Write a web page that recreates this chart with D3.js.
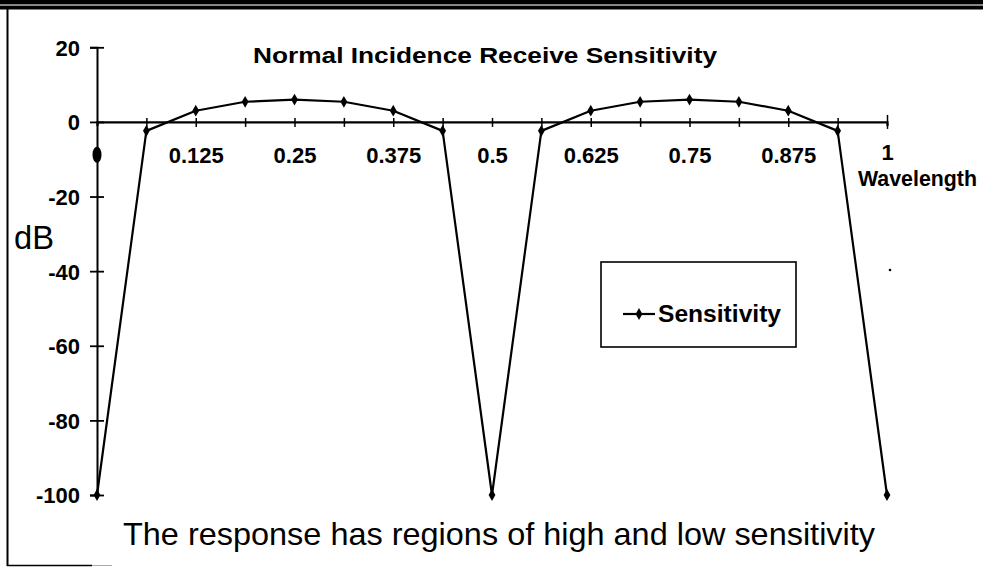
<!DOCTYPE html>
<html>
<head>
<meta charset="utf-8">
<script src="https://cdn.jsdelivr.net/npm/d3@7"></script>
<style>
  html, body { margin: 0; padding: 0; background: #fff; }
  svg { display: block; }
  text { font-family: Arial, "Liberation Sans", Helvetica, sans-serif; fill: #000; }
</style>
</head>
<body>
<svg id="chart" width="983" height="567"></svg>
<script>
// ---- data ----
const wavelength = [0, 0.0625, 0.125, 0.1875, 0.25, 0.3125, 0.375, 0.4375, 0.5,
                    0.5625, 0.625, 0.6875, 0.75, 0.8125, 0.875, 0.9375, 1];
const sensitivity = [-100, -2.4, 3.0, 5.4, 6.0, 5.4, 3.0, -2.4, -100,
                     -2.4, 3.0, 5.4, 6.0, 5.4, 3.0, -2.4, -100];
const xTickValues = [0, 0.0625, 0.125, 0.1875, 0.25, 0.3125, 0.375, 0.4375, 0.5,
                     0.5625, 0.625, 0.6875, 0.75, 0.8125, 0.875, 0.9375, 1];
const xTickLabels = ["0.125", "0.25", "0.375", "0.5", "0.625", "0.75", "0.875", "1"];
const yTickValues = [20, 0, -20, -40, -60, -80, -100];
const titleText = "Normal Incidence Receive Sensitivity";
const seriesName = "Sensitivity";
const yLabel = "dB";
const xLabel = "Wavelength";
const captionText = "The response has regions of high and low sensitivity";
const artifact = { x: 0, y: -8.8 };

// ---- chart ----
const svg = d3.select("#chart");
const x = d3.scaleLinear().domain([0, 1]).range([97, 887]);
const y = d3.scaleLinear().domain([-100, 20]).range([495, 47.3]);

// frame
svg.append("rect").attr("x", 0).attr("y", 0).attr("width", 983).attr("height", 4.5).attr("fill", "#000");
svg.append("rect").attr("x", 0).attr("y", 4.5).attr("width", 983).attr("height", 1.5).attr("fill", "#888");
svg.append("rect").attr("x", 0).attr("y", 6).attr("width", 983).attr("height", 3.5).attr("fill", "#000");
svg.append("line").attr("x1", 7.5).attr("x2", 7.5).attr("y1", 9).attr("y2", 566)
  .attr("stroke", "#000").attr("stroke-width", 2);
svg.append("line").attr("x1", 7).attr("x2", 92).attr("y1", 565.5).attr("y2", 565.5)
  .attr("stroke", "#000").attr("stroke-width", 1.5);
svg.append("line").attr("x1", 92).attr("x2", 112).attr("y1", 565.5).attr("y2", 565.5)
  .attr("stroke", "#aaa").attr("stroke-width", 1);

// y axis
const yAxis = svg.append("g").attr("transform", `translate(${x(0)},0)`)
  .call(d3.axisLeft(y).tickValues(yTickValues).tickSizeOuter(0).tickSize(7).tickFormat(d => String(d)));
yAxis.select(".domain").attr("stroke", "#000").attr("stroke-width", 2);
yAxis.selectAll(".tick line").attr("x1", -7).attr("x2", 7).attr("stroke-width", 1.8);
yAxis.selectAll(".tick text").attr("x", -17).attr("dy", "0.36em")
  .style("font-size", "22px").style("font-weight", "bold").attr("fill", "#000");

// x axis at y = 0
const xAxis = svg.append("g").attr("transform", `translate(0,${y(0)})`)
  .call(d3.axisBottom(x).tickValues(xTickValues).tickSizeOuter(0).tickSize(4)
    .tickFormat(d => { const s = String(d); return xTickLabels.includes(s) ? s : ""; }));
xAxis.select(".domain").attr("stroke", "#000").attr("stroke-width", 2.2);
xAxis.selectAll(".tick line").attr("y1", d => d === 1 ? -7 : -4).attr("y2", d => d === 1 ? 7 : 5)
  .attr("stroke-width", 1.5);
xAxis.selectAll(".tick line").filter(d => d === 0).remove();
xAxis.selectAll(".tick text").attr("y", d => d === 1 ? 38 : 41).attr("dy", 0)
  .style("font-size", "22px").style("font-weight", "bold").attr("fill", "#000");

// axis labels
svg.append("text").attr("x", 858).attr("y", 186).text(xLabel)
  .style("font-size", "22px").style("font-weight", "bold").attr("textLength", 119).attr("lengthAdjust", "spacingAndGlyphs");
svg.append("text").attr("x", 14).attr("y", 249).text(yLabel)
  .style("font-size", "33px").attr("textLength", 40).attr("lengthAdjust", "spacingAndGlyphs");

// title
svg.append("text").attr("x", 253).attr("y", 63).text(titleText)
  .style("font-size", "22px").style("font-weight", "bold")
  .attr("textLength", 464).attr("lengthAdjust", "spacingAndGlyphs");

// artifact ellipse on the y axis
svg.append("ellipse").attr("cx", x(artifact.x)).attr("cy", y(artifact.y))
  .attr("rx", 4.5).attr("ry", 8).attr("fill", "#000");

// series line
const pts = wavelength.map((w, i) => [w, sensitivity[i]]);
svg.append("path").datum(pts)
  .attr("fill", "none").attr("stroke", "#000").attr("stroke-width", 2.2)
  .attr("stroke-linejoin", "round")
  .attr("d", d3.line().x(d => x(d[0])).y(d => y(d[1])));
const diamond = d3.symbol().type(d3.symbolDiamond).size(40);
svg.append("g").selectAll("path").data(pts).join("path")
  .attr("transform", d => `translate(${x(d[0])},${y(d[1])})`)
  .attr("d", diamond).attr("fill", "#000");

// legend
const lg = svg.append("g");
lg.append("rect").attr("x", 601).attr("y", 262).attr("width", 195).attr("height", 85)
  .attr("fill", "#fff").attr("stroke", "#000").attr("stroke-width", 1.6);
lg.append("line").attr("x1", 623).attr("x2", 655).attr("y1", 314).attr("y2", 314)
  .attr("stroke", "#000").attr("stroke-width", 2.2);
lg.append("path").attr("transform", "translate(639,314)").attr("d", diamond).attr("fill", "#000");
lg.append("text").attr("x", 658).attr("y", 322).text(seriesName)
  .style("font-size", "23px").style("font-weight", "bold")
  .attr("textLength", 123).attr("lengthAdjust", "spacingAndGlyphs");

// stray speck
svg.append("circle").attr("cx", 890).attr("cy", 270).attr("r", 1.3).attr("fill", "#000");

// caption
svg.append("text").attr("x", 123).attr("y", 545).text(captionText)
  .style("font-size", "32px").attr("textLength", 752).attr("lengthAdjust", "spacingAndGlyphs");
</script>
</body>
</html>
